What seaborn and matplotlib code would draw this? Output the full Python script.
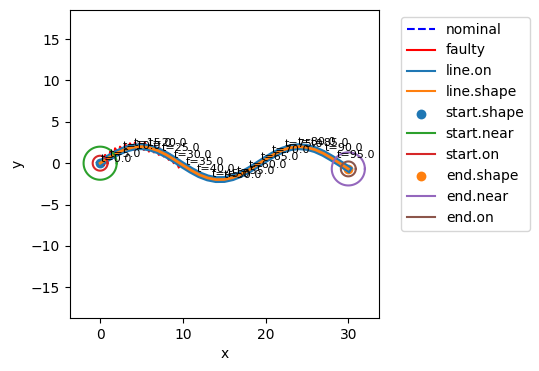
import numpy as np
import matplotlib
matplotlib.use("Agg")
import matplotlib.pyplot as plt
import seaborn as sns

# Path (nominal trajectory)
path_x = [0, 1, 2, 3, 4, 5, 6, 7, 8, 9, 10, 11, 12, 13, 14, 15,
          16, 17, 18, 19, 20, 21, 22, 23, 24, 25, 26, 27, 28, 29, 30]
path_y = [0.0, 0.64, 1.21, 1.66, 1.93, 2.0, 1.85, 1.51, 1.02, 0.41, -0.24,
          -0.86, -1.40, -1.78, -1.98, -1.97, -1.75, -1.35, -0.81, -0.18, 0.47,
          1.06, 1.56, 1.88, 2.0, 1.91, 1.63, 1.18, 0.60, -0.03, -0.69]

# Faulty trajectory (jittery, only the first part)
faulty_x = [0, 0.5, 0.6, 1.1, 1.2, 1.7, 1.8, 2.3, 2.4, 2.9, 3.0, 3.5, 3.6,
            4.1, 4.2, 4.7, 4.8, 5.3, 5.4, 5.9, 6.0, 6.5, 6.6, 7.1, 7.2,
            7.7, 7.8, 8.3, 8.4, 8.9, 9.0, 9.5]
faulty_y = [0.3, -0.2, 1.0, 0.4, 1.4, 0.9, 1.8, 1.1, 2.0, 1.4, 2.3, 1.6, 2.4,
            1.6, 2.5, 1.7, 2.4, 1.6, 2.5, 1.4, 2.2, 1.3, 2.1, 1.0, 1.8,
            0.8, 1.5, 0.4, 1.1, 0.0, 0.7, -0.5]

# Time labels
t_values = [0, 5, 10, 15, 20, 25, 30, 35, 40, 45, 50, 55, 60, 65, 70, 75, 80, 85, 90, 95]
t_x = [0.1, 1.2, 2.7, 4.1, 5.9, 7.5, 8.9, 10.3, 11.7, 13.5, 15.0, 16.5,
       18.0, 19.4, 20.8, 22.3, 23.9, 25.5, 27.2, 28.6]
t_y = [0.1, 0.8, 1.7, 2.1, 2.1, 1.5, 0.6, -0.25, -1.05, -1.7, -1.75, -1.3,
       -0.6, 0.35, 1.2, 1.9, 2.2, 2.1, 1.5, 0.6]

start = (0.0, 0.0)
end = (30.0, -0.69)
start_near_r = 2.0
start_on_r = 0.9
end_near_r = 2.0
end_on_r = 0.9

fig, ax = plt.subplots(figsize=(5.39, 3.71), dpi=100)
fig.subplots_adjust(left=0.129, right=0.703, top=0.973, bottom=0.143)

sns.lineplot(x=path_x, y=path_y, sort=False, estimator=None, color="b",
             linestyle="--", label="nominal", ax=ax)
sns.lineplot(x=faulty_x, y=faulty_y, sort=False, estimator=None, color="r",
             label="faulty", ax=ax)
sns.lineplot(x=path_x, y=path_y, sort=False, estimator=None, color="C0",
             linewidth=5, label="line.on", ax=ax)
sns.lineplot(x=path_x, y=path_y, sort=False, estimator=None, color="C1",
             linewidth=2, label="line.shape", ax=ax)

ang = np.linspace(0, 2 * np.pi, 100)


def circle(center, r, color, label):
    ax.plot(center[0] + r * np.cos(ang), center[1] + r * np.sin(ang),
            color=color, label=label)


sns.scatterplot(x=[start[0]], y=[start[1]], color="C0", s=50, linewidth=0,
                label="start.shape", ax=ax)
circle(start, start_near_r, "C2", "start.near")
circle(start, start_on_r, "C3", "start.on")
sns.scatterplot(x=[end[0]], y=[end[1]], color="C1", s=50, linewidth=0,
                label="end.shape", ax=ax)
circle(end, end_near_r, "C4", "end.near")
circle(end, end_on_r, "C5", "end.on")

for t, x, y in zip(t_values, t_x, t_y):
    ax.text(x, y, f"t={float(t)}", fontsize=8)

ax.set_aspect("equal", adjustable="datalim")
ax.set_xlabel("x")
ax.set_ylabel("y")
leg = ax.legend(bbox_to_anchor=(1.05, 1), loc="upper left")
for h in leg.get_lines():
    h.set_linewidth(1.5)

plt.savefig("out.png")
plt.close()
